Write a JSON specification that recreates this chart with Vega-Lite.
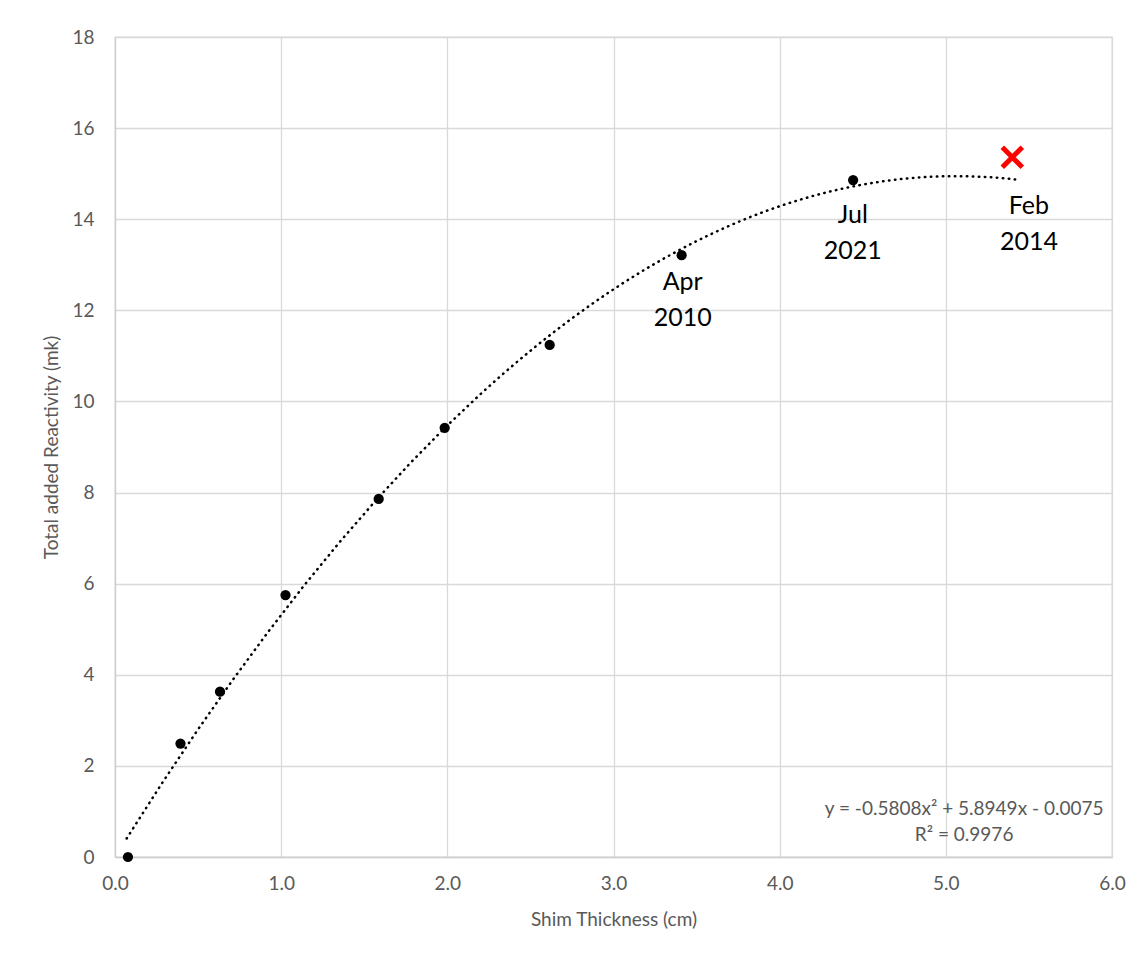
{
  "$schema": "https://vega.github.io/schema/vega-lite/v6.json",
  "width": 997,
  "height": 820,
  "autosize": {"type": "none"},
  "padding": {"left": 115, "top": 37, "right": 36, "bottom": 104},
  "background": "white",
  "config": {
    "font": "Lato",
    "view": {"stroke": "#d9d9d9", "strokeWidth": 1.3},
    "axis": {
      "gridColor": "#d9d9d9",
      "gridWidth": 1.3,
      "domainColor": "#d0d0d0",
      "domainWidth": 1.3,
      "ticks": false,
      "labelFlush": false,
      "labelColor": "#595959",
      "labelFontSize": 19,
      "labelFont": "Lato",
      "titleColor": "#595959",
      "titleFontSize": 19,
      "titleFont": "Lato",
      "titleFontWeight": "normal"
    }
  },
  "datasets": {
    "pts": [
      {"x": 0.078, "y": 0.0},
      {"x": 0.394, "y": 2.49},
      {"x": 0.632, "y": 3.63},
      {"x": 1.026, "y": 5.75},
      {"x": 1.587, "y": 7.86},
      {"x": 1.984, "y": 9.42},
      {"x": 2.616, "y": 11.24},
      {"x": 3.41, "y": 13.21},
      {"x": 4.442, "y": 14.86}
    ],
    "red": [{"x": 5.40, "y": 15.36}],
    "labels": [
      {"x": 3.416, "y": 12.62, "label": ["Apr", "2010"]},
      {"x": 4.44, "y": 14.10, "label": ["Jul", "2021"]},
      {"x": 5.50, "y": 14.30, "label": ["Feb", "2014"]}
    ],
    "eq": [
      {"x": 5.11, "y": 1.05, "label": ["y = -0.5808x² + 5.8949x - 0.0075", "R² = 0.9976"]}
    ]
  },
  "layer": [
    {
      "data": {"name": "pts"},
      "transform": [
        {"regression": "y", "on": "x", "method": "poly", "order": 2, "extent": [0.07, 5.43]}
      ],
      "mark": {"type": "line", "color": "black", "strokeWidth": 2.5, "strokeDash": [0.5, 5.5], "strokeCap": "round"},
      "encoding": {
        "x": {"field": "x", "type": "quantitative", "scale": {"domain": [0, 6], "nice": false}, "axis": {"values": [0, 1, 2, 3, 4, 5, 6], "format": ".1f", "labelPadding": 17, "title": "Shim Thickness (cm)", "titlePadding": 17}},
        "y": {"field": "y", "type": "quantitative", "scale": {"domain": [0, 18], "nice": false}, "axis": {"values": [0, 2, 4, 6, 8, 10, 12, 14, 16, 18], "labelPadding": 21, "title": "Total added Reactivity (mk)", "titlePadding": 10}}
      }
    },
    {
      "data": {"name": "pts"},
      "mark": {"type": "point", "filled": true, "color": "black", "size": 105, "opacity": 1},
      "encoding": {
        "x": {"field": "x", "type": "quantitative"},
        "y": {"field": "y", "type": "quantitative"}
      }
    },
    {
      "data": {"name": "red"},
      "mark": {"type": "point", "shape": "M-1,-1L1,1M-1,1L1,-1", "filled": false, "stroke": "#ff0000", "strokeWidth": 5, "size": 400, "opacity": 1},
      "encoding": {
        "x": {"field": "x", "type": "quantitative"},
        "y": {"field": "y", "type": "quantitative"}
      }
    },
    {
      "data": {"name": "labels"},
      "mark": {"type": "text", "font": "Lato", "fontSize": 25, "color": "black", "align": "center", "baseline": "middle", "lineHeight": 36},
      "encoding": {
        "x": {"field": "x", "type": "quantitative"},
        "y": {"field": "y", "type": "quantitative"},
        "text": {"field": "label"}
      }
    },
    {
      "data": {"name": "eq"},
      "mark": {"type": "text", "font": "Lato", "fontSize": 19, "color": "#595959", "align": "center", "baseline": "middle", "lineHeight": 26},
      "encoding": {
        "x": {"field": "x", "type": "quantitative"},
        "y": {"field": "y", "type": "quantitative"},
        "text": {"field": "label"}
      }
    }
  ]
}
